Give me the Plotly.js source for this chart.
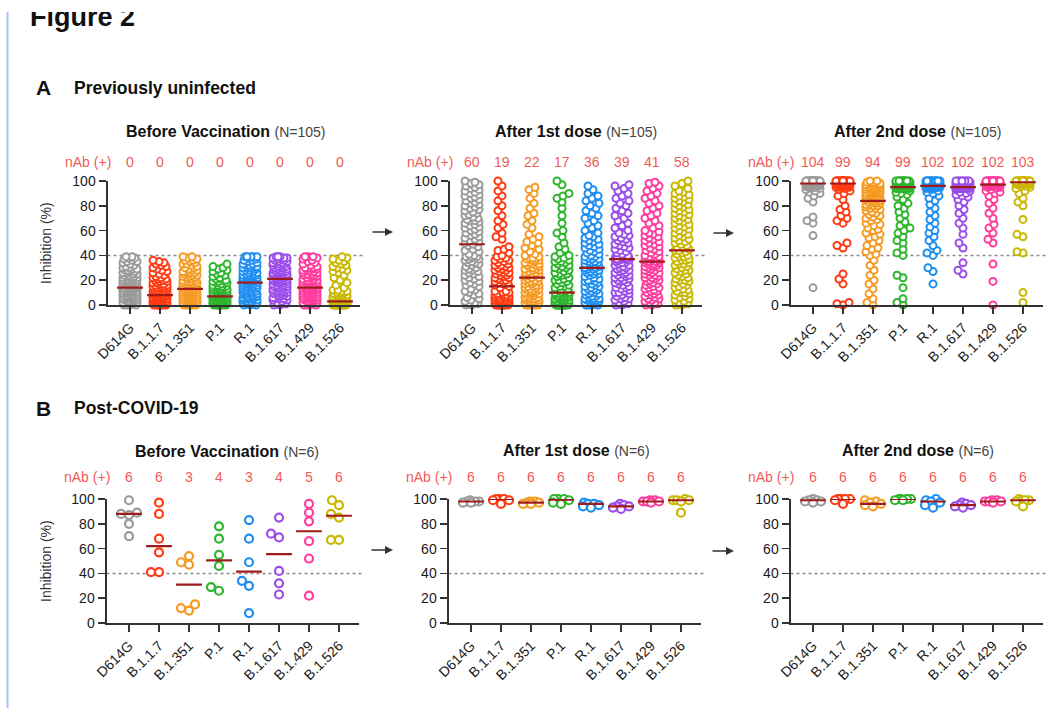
<!DOCTYPE html>
<html><head><meta charset="utf-8">
<script src="https://cdn.plot.ly/plotly-3.0.1.min.js"></script>
<style>html,body{margin:0;padding:0;background:#fff;}#chart{width:1060px;height:708px;}#cut{position:absolute;left:0;top:0;width:1060px;height:12px;background:#fff;z-index:5;}</style>
</head><body><div id="chart"></div><div id="cut"></div>
<script>
const categories = ['D614G','B.1.1.7','B.1.351','P.1','R.1','B.1.617','B.1.429','B.1.526'];
const colors = ['#9a9a9a','#ff3a12','#f59a22','#2db52d','#1f8ef1','#9b4dea','#ff3c9e','#c9b700'];
const panelTitles = ['Before Vaccination','After 1st dose','After 2nd dose'];
const cohortN = ['N=105','N=6'];
const sectionLabels = ['Previously uninfected','Post-COVID-19'];

const nAbA1 = [0,0,0,0,0,0,0,0];
const nAbA2 = [60,19,22,17,36,39,41,58];
const nAbA3 = [104,99,94,99,102,102,102,103];
const nAbB1 = [6,6,3,4,3,4,5,6];
const nAbB2 = [6,6,6,6,6,6,6,6];
const nAbB3 = [6,6,6,6,6,6,6,6];

const medA1 = [14,8,13,7,18,21,14,3];
const medA2 = [49,15,22,10,30,37,35,44];
const medA3 = [98,98,84,95,96,95,97,99];
const medB1 = [88,62,31,50.5,41.5,55.5,74,86.5];
const medB2 = [98,100,97,99.5,96,94,98,99];
const medB3 = [99,100,96,100,98,95,98,99];

const beforeA = [
[0,0,0,0,1,1,1,2,2,2,3,3,3,4,4,4,5,5,5,6,6,6,7,7,7,8,8,8,9,9,9,10,10,10,11,11,11,12,12,12,13,13,13,13,14,14,14,14,14,14,14,14,14,15,15,15,16,16,16,17,17,17,18,18,18,19,19,19,20,20,20,21,21,21,22,22,22,23,23,24,24,25,25,26,26,27,27,28,28,29,29,30,30,31,32,33,34,35,35,36,37,38,38,39,39],
[0,0,0,0,0,0,0,0,1,1,1,1,1,2,2,2,2,2,3,3,3,3,3,4,4,4,4,4,5,5,5,5,5,6,6,6,6,6,7,7,7,7,7,7,8,8,8,8,8,8,8,8,8,9,9,9,9,10,10,10,10,11,11,11,12,12,12,13,13,13,14,14,14,15,15,15,16,16,16,17,17,18,18,19,19,20,20,21,21,22,22,23,24,25,26,27,28,29,30,31,32,33,34,35,36],
[0,0,0,0,0,1,1,1,1,2,2,2,2,3,3,3,3,4,4,4,4,5,5,5,5,6,6,6,6,7,7,7,7,8,8,8,8,9,9,9,9,10,10,10,10,11,11,11,12,12,12,13,13,13,14,14,14,15,15,15,16,16,16,17,17,17,18,18,18,19,19,19,20,20,21,21,22,22,23,23,24,24,25,25,26,26,27,27,28,28,29,30,30,31,32,33,33,34,35,36,36,37,38,39,39],
[0,0,0,0,0,0,0,0,1,1,1,1,1,1,2,2,2,2,2,2,3,3,3,3,3,3,4,4,4,4,4,4,5,5,5,5,5,5,6,6,6,6,6,6,7,7,7,7,7,7,7,7,7,8,8,8,8,8,9,9,9,9,10,10,10,10,11,11,11,12,12,12,12,13,13,13,14,14,14,15,15,15,15,16,16,17,17,18,18,19,19,20,20,21,22,23,24,25,26,27,28,29,30,31,33],
[0,0,0,1,1,2,2,3,3,4,4,4,5,5,5,6,6,6,7,7,7,8,8,8,9,9,9,10,10,10,11,11,11,12,12,12,13,13,13,14,14,14,15,15,15,16,16,16,17,17,17,17,18,18,18,18,19,19,19,20,20,20,21,21,21,22,22,22,23,23,23,24,24,24,25,25,25,26,26,27,27,28,28,29,29,30,30,30,31,31,32,32,33,33,34,35,36,36,37,38,39,39,39,39,39],
[0,0,1,2,3,4,4,5,5,6,6,7,7,8,8,9,9,10,10,10,11,11,11,12,12,12,13,13,13,14,14,14,15,15,15,16,16,16,17,17,17,18,18,18,19,19,19,20,20,20,21,21,21,21,21,22,22,22,23,23,23,24,24,24,25,25,25,25,26,26,26,27,27,27,28,28,28,28,29,29,29,30,30,30,31,31,32,32,33,33,33,34,34,35,35,36,36,37,37,38,38,38,39,39,39],
[0,0,0,0,1,1,1,2,2,2,3,3,3,4,4,4,5,5,5,6,6,6,7,7,7,8,8,8,9,9,9,10,10,10,11,11,11,12,12,12,12,12,13,13,13,13,13,14,14,14,14,14,14,15,15,15,16,16,16,17,17,17,18,18,18,19,19,19,20,20,20,20,21,21,22,22,23,23,24,24,24,25,25,26,26,27,27,28,28,29,29,30,30,30,31,32,33,34,35,36,37,38,39,39,39],
[0,0,0,0,0,0,0,0,0,0,0,0,0,0,1,1,1,1,1,1,1,1,1,1,1,1,2,2,2,2,2,2,2,2,2,2,2,2,3,3,3,3,3,3,3,3,3,3,3,3,3,3,3,4,4,4,4,4,4,4,4,5,5,5,5,5,5,6,6,6,6,7,7,7,8,8,8,9,9,10,10,11,11,12,12,14,16,18,20,22,24,26,27,28,29,30,31,32,33,34,35,36,37,38,39]
];

const after1A = [
[0,0,1,1,2,3,4,5,6,8,9,10,11,12,13,15,16,17,18,19,20,21,22,23,24,25,26,27,28,28,29,30,31,32,33,34,34,35,36,37,37,38,39,39,39,40,41,43,44,45,47,48,49,50,51,52,53,54,55,56,57,58,59,60,61,62,63,64,65,66,67,68,68,69,70,71,72,73,74,75,76,77,78,79,80,81,82,83,84,85,86,87,88,89,90,91,92,93,94,95,96,97,98,99,100],
[0,0,0,0,0,0,0,0,0,0,1,1,1,1,1,1,2,2,2,2,2,2,3,3,3,3,3,4,4,4,4,4,5,5,5,5,6,6,6,7,7,7,8,8,8,9,9,10,10,11,11,14,15,16,17,18,18,19,20,20,21,22,22,23,24,24,25,26,26,27,28,28,29,30,30,31,32,32,33,34,35,36,36,37,38,39,40,42,44,45,47,53,55,58,62,65,68,72,76,80,84,88,92,96,100],
[0,0,0,0,0,1,1,1,2,2,2,3,3,3,4,4,4,5,5,5,6,6,7,7,8,8,9,9,10,10,10,11,11,12,12,13,13,14,14,15,15,16,16,17,17,18,18,19,19,20,20,21,22,22,23,24,24,25,25,26,26,27,28,28,29,29,30,30,31,32,32,33,33,34,34,35,36,36,37,37,38,38,39,40,41,43,45,46,48,50,51,53,55,57,62,65,68,72,74,78,82,86,90,93,95],
[0,0,0,0,0,0,0,0,0,0,0,0,1,1,1,1,1,1,1,2,2,2,2,2,2,3,3,3,3,3,4,4,4,4,5,5,5,5,6,6,6,7,7,7,8,8,8,9,9,9,10,10,10,11,12,12,13,14,15,15,16,17,18,19,20,20,21,22,23,24,25,25,26,27,28,29,30,30,31,32,33,34,35,35,36,37,38,39,40,42,45,47,50,55,58,60,66,72,78,83,86,88,90,97,100],
[0,0,0,0,1,1,2,2,3,3,4,4,4,5,5,5,6,7,7,8,9,9,10,11,11,12,13,13,14,15,15,16,17,17,18,19,19,20,20,21,22,23,24,25,25,26,27,27,28,28,29,29,30,30,31,31,32,33,33,34,34,35,35,36,37,37,38,39,39,40,41,42,43,44,45,46,47,48,49,50,51,52,53,54,55,56,58,60,62,64,66,68,70,72,74,76,78,80,82,84,86,88,90,93,96],
[0,0,1,2,3,4,5,5,6,7,8,9,10,10,11,12,13,14,14,15,16,17,18,18,19,20,20,21,22,22,23,24,24,25,26,26,27,28,28,29,30,30,31,32,32,33,34,34,35,36,36,37,37,37,37,38,38,38,38,39,39,39,39,39,38,37,40,41,42,43,44,45,46,47,48,49,50,51,52,53,54,55,56,57,58,60,62,64,66,68,70,72,74,76,78,80,82,84,86,88,90,92,94,96,97],
[0,0,1,2,2,3,4,5,5,6,7,8,8,9,10,11,11,12,13,14,14,15,16,17,17,18,19,20,20,21,22,22,23,24,24,25,26,26,27,28,28,29,30,30,31,31,32,32,33,33,34,34,35,35,35,36,36,37,37,38,38,39,39,39,40,41,42,43,44,45,46,47,48,49,50,51,52,53,54,55,56,57,58,59,60,62,64,66,68,70,72,74,76,78,80,82,84,86,88,90,92,94,96,98,99],
[0,0,1,2,3,4,5,6,7,8,9,10,10,11,12,13,14,15,16,17,18,19,20,20,21,22,23,24,25,26,27,28,28,29,30,31,32,33,33,34,35,36,36,37,38,39,39,40,41,42,43,44,44,45,46,47,48,49,50,51,52,53,54,55,56,57,58,59,60,61,62,63,64,65,66,67,68,69,70,71,72,73,74,75,76,77,78,79,80,81,82,83,84,85,86,87,88,89,90,91,92,94,96,98,100]
];

const after2A = [
[14,56,66,68,71,83,86,88,90,91,92,93,94,94,95,95,95,96,96,96,96,96,96,97,97,97,97,97,97,97,97,97,97,97,97,97,97,97,98,98,98,98,98,98,98,98,98,98,98,98,98,98,98,98,98,98,98,98,99,99,99,99,99,99,99,99,99,99,99,99,99,99,99,99,99,99,99,99,99,99,99,99,99,100,100,100,100,100,100,100,100,100,100,100,100,100,100,100,100,100,100,100,100,100,100],
[0,1,2,17,21,25,46,48,50,66,68,70,72,75,77,80,85,88,90,92,93,94,95,95,95,95,96,96,96,96,96,96,97,97,97,97,97,97,97,97,97,97,98,98,98,98,98,98,98,98,98,98,98,98,98,98,99,99,99,99,99,99,99,99,99,99,99,99,99,99,99,99,99,99,99,99,99,99,99,99,100,100,100,100,100,100,100,100,100,100,100,100,100,100,100,100,100,100,100,100,100,100,100,100,100],
[0,2,5,9,13,17,20,24,28,32,36,40,41,43,45,46,48,50,52,54,55,57,58,60,61,62,64,65,66,68,69,70,71,72,73,74,75,76,77,78,78,79,80,80,81,81,82,82,83,83,83,84,84,85,85,85,86,86,86,87,87,87,88,88,88,89,89,89,90,90,90,90,91,91,91,91,92,92,92,92,93,93,93,93,94,94,94,94,95,95,95,95,96,96,96,97,97,97,98,98,98,99,99,100,100],
[0,2,5,14,22,24,40,42,45,50,52,55,58,60,62,64,67,70,73,75,78,80,82,85,87,89,90,91,92,93,94,94,94,94,94,94,94,94,95,95,95,95,95,95,95,95,95,95,95,95,95,95,95,96,96,96,96,96,96,96,96,96,96,97,97,97,97,97,97,97,97,97,97,98,98,98,98,98,98,98,98,98,98,99,99,99,99,99,99,99,99,99,99,100,100,100,100,100,100,100,100,100,100,100,100],
[17,27,30,40,42,44,48,52,55,58,60,63,66,69,72,75,78,81,84,86,88,90,91,92,93,94,94,95,95,95,95,95,95,95,95,95,95,96,96,96,96,96,96,96,96,96,96,96,96,96,96,96,96,97,97,97,97,97,97,97,97,97,97,97,97,98,98,98,98,98,98,98,98,98,98,98,98,98,99,99,99,99,99,99,99,99,99,99,99,99,99,100,100,100,100,100,100,100,100,100,100,100,100,100,100],
[25,28,34,46,50,57,62,66,70,74,77,80,83,85,87,88,89,90,91,92,93,94,94,94,94,94,94,94,94,94,94,94,94,95,95,95,95,95,95,95,95,95,95,95,95,95,95,95,95,95,95,95,95,96,96,96,96,96,96,96,96,96,96,96,96,97,97,97,97,97,97,97,97,97,97,97,97,98,98,98,98,98,98,98,98,98,98,99,99,99,99,99,99,99,99,99,99,100,100,100,100,100,100,100,100],
[0,19,33,50,53,58,62,65,70,74,78,82,85,88,90,91,92,93,94,95,95,96,96,96,96,96,96,96,96,96,96,96,96,97,97,97,97,97,97,97,97,97,97,97,97,97,97,97,97,97,97,97,97,98,98,98,98,98,98,98,98,98,98,98,98,98,98,98,99,99,99,99,99,99,99,99,99,99,99,99,99,99,99,99,99,99,100,100,100,100,100,100,100,100,100,100,100,100,100,100,100,100,100,100,100],
[2,10,42,43,55,57,69,80,83,86,90,92,94,95,96,96,97,97,98,98,98,98,98,98,98,98,98,98,98,98,98,98,98,99,99,99,99,99,99,99,99,99,99,99,99,99,99,99,99,99,99,99,99,99,99,99,99,99,99,99,99,99,99,99,99,99,99,99,99,99,99,99,99,100,100,100,100,100,100,100,100,100,100,100,100,100,100,100,100,100,100,100,100,100,100,100,100,100,100,100,100,100,100,100,100]
];

const beforeB = [
[99,89,88,87,80,70],
[97,88,68,57,41,41],
[54,49,47,15,12,10],
[78,68,55,46,29,26],
[83,68,49,34,30,8],
[85,72,69,42,32,23],
[96,89,82,66,52,22],
[99,95,88,85,67,67]
];
const after1B = [
[99,98,98,98,97,97],
[100,100,100,99,99,96],
[98,98,97,97,96,96],
[100,100,100,99,97,96],
[97,96,96,95,94,93],
[96,95,94,94,93,92],
[99,99,98,98,98,97],
[100,99,99,99,98,89]
];
const after2B = [
[100,99,99,98,98,97],
[100,100,100,100,99,96],
[99,98,97,96,95,94],
[100,100,100,100,99,99],
[100,99,98,97,95,93],
[97,96,95,95,94,93],
[99,99,98,98,98,97],
[100,99,99,99,98,94]
];

// ---------- layout geometry (pixels) ----------
const W = 1060, H = 708, PW = 252, PH = 124, XR = [-0.75, 7.65];
const PXX = PW / (XR[1] - XR[0]), PXY = PH / 100;
const fx = px => px / W, fy = py => 1 - py / H;
const FONT = '"Liberation Sans", Arial, Helvetica, sans-serif';

const panels = [
  {vals: beforeA, med: medA1, nab: nAbA1, title: panelTitles[0], n: cohortN[0], left: 107.5, top: 181, tx: 225, ty: 132, ny: 162, yTitle: true, big: false},
  {vals: after1A, med: medA2, nab: nAbA2, title: panelTitles[1], n: cohortN[0], left: 449.5, top: 181, tx: 575.5, ty: 132, ny: 162, yTitle: false, big: false},
  {vals: after2A, med: medA3, nab: nAbA3, title: panelTitles[2], n: cohortN[0], left: 790.5, top: 181, tx: 917, ty: 132, ny: 162, yTitle: false, big: false},
  {vals: beforeB, med: medB1, nab: nAbB1, title: panelTitles[0], n: cohortN[1], left: 106.5, top: 499, tx: 227, ty: 451, ny: 477, yTitle: true, big: true},
  {vals: after1B, med: medB2, nab: nAbB2, title: panelTitles[1], n: cohortN[1], left: 448.5, top: 499, tx: 576, ty: 450, ny: 477, yTitle: false, big: true},
  {vals: after2B, med: medB3, nab: nAbB3, title: panelTitles[2], n: cohortN[1], left: 790.5, top: 499, tx: 917.5, ty: 450, ny: 477, yTitle: false, big: true}
];

// beeswarm: horizontal offsets (in category units) so that circles do not overlap, within a max width
function swarm(vals, D, maxHalf) {
  const order = vals.map((v, i) => i).sort((a, b) => vals[a] - vals[b]);
  const step = 1, cands = [0];
  for (let s = step; s <= maxHalf + 1e-9; s += step) cands.push(-s, s);
  const placed = [], off = new Array(vals.length);
  for (const i of order) {
    const py = vals[i] * PXY;
    let best = 0, bestScore = -1;
    for (const cx of cands) {
      let minD = Infinity;
      for (const p of placed) {
        const dy = p.y - py;
        if (Math.abs(dy) >= D) continue;
        const d = Math.hypot(p.x - cx, dy);
        if (d < minD) minD = d;
      }
      if (minD >= D) { best = cx; bestScore = Infinity; break; }
      if (minD > bestScore) { bestScore = minD; best = cx; }
    }
    placed.push({x: best, y: py});
    off[i] = best / PXX;
  }
  return off;
}

const traces = [], annotations = [], shapes = [];
const layout = {
  width: W, height: H, margin: {l: 0, r: 0, t: 0, b: 0, pad: 0},
  paper_bgcolor: '#ffffff', plot_bgcolor: 'rgba(0,0,0,0)',
  font: {family: FONT, color: '#222'}, showlegend: false
};
const redTxt = '#ef5b57';

panels.forEach((p, k0) => {
  const sx = k0 === 0 ? '' : String(k0 + 1);
  const xa = 'x' + sx, ya = 'y' + sx;
  layout['xaxis' + sx] = {
    domain: [fx(p.left), fx(p.left + PW)], range: XR, anchor: ya,
    tickmode: 'array', tickvals: categories.map((c, i) => i), ticktext: categories,
    tickangle: -45, ticks: 'outside', ticklen: 7, tickwidth: 1.5, tickcolor: '#333',
    showline: true, linecolor: '#333', linewidth: 2, showgrid: false, zeroline: false,
    tickfont: {size: 14, color: '#1a1a1a'}, fixedrange: true
  };
  layout['yaxis' + sx] = {
    domain: [fy(p.top + PH), fy(p.top)], range: [0, 100], anchor: xa,
    tickmode: 'array', tickvals: [0, 20, 40, 60, 80, 100],
    ticks: 'outside', ticklen: 7, tickwidth: 1.5, tickcolor: '#333',
    showline: true, linecolor: '#333', linewidth: 2, showgrid: false, zeroline: false,
    tickfont: {size: 14, color: '#1a1a1a'}, fixedrange: true
  };
  const msize = p.big ? 8 : 7, lw = p.big ? 2.2 : 2, D = p.big ? 8.5 : 6, half = p.big ? 8 : 7;
  p.vals.forEach((v, i) => {
    const off = swarm(v, D, half);
    traces.push({
      type: 'scatter', mode: 'markers', x: v.map((_, j) => i + off[j]), y: v,
      xaxis: xa, yaxis: ya, cliponaxis: false, hoverinfo: 'skip', showlegend: false,
      marker: {size: msize, color: '#ffffff', line: {color: colors[i], width: lw}}
    });
  });
  const mx = [], my = [];
  p.med.forEach((m, i) => { mx.push(i - 0.43, i + 0.43, null); my.push(m, m, null); });
  traces.push({type: 'scatter', mode: 'lines', x: mx, y: my, xaxis: xa, yaxis: ya,
    cliponaxis: false, hoverinfo: 'skip', showlegend: false, line: {color: '#9e1b1b', width: 2.2}});
  shapes.push({type: 'line', xref: xa + ' domain', yref: ya, x0: 0, x1: 1.012, y0: 40, y1: 40,
    layer: 'below', line: {color: '#8a8a8a', width: 1.5, dash: 'dot'}});
  annotations.push({xref: 'paper', yref: 'paper', x: fx(p.tx), y: fy(p.ty), xanchor: 'center', yanchor: 'middle',
    showarrow: false, font: {size: 16, color: '#111'},
    text: '<b>' + p.title + '</b> <span style="font-size:14px;color:#444">(' + p.n + ')</span>'});
  annotations.push({xref: xa, yref: 'paper', x: -0.57, y: fy(p.ny), xanchor: 'right', yanchor: 'middle',
    showarrow: false, text: 'nAb (+)', font: {size: 14, color: redTxt}});
  p.nab.forEach((n, i) => annotations.push({xref: xa, yref: 'paper', x: i, y: fy(p.ny),
    xanchor: 'center', yanchor: 'middle', showarrow: false, text: String(n), font: {size: 14, color: redTxt}}));
  if (p.yTitle) annotations.push({xref: 'paper', yref: 'paper', x: fx(46), y: fy(p.top + PH / 2),
    xanchor: 'center', yanchor: 'middle', textangle: -90, showarrow: false,
    text: 'Inhibition (%)', font: {size: 14, color: '#333'}});
});

// section labels
annotations.push({xref: 'paper', yref: 'paper', x: fx(34), y: fy(88), xanchor: 'left', yanchor: 'middle', showarrow: false, text: '<b>A</b>', font: {size: 21, color: '#111'}});
annotations.push({xref: 'paper', yref: 'paper', x: fx(72), y: fy(88), xanchor: 'left', yanchor: 'middle', showarrow: false, text: '<b>' + sectionLabels[0] + '</b>', font: {size: 17.5, color: '#111'}});
annotations.push({xref: 'paper', yref: 'paper', x: fx(34), y: fy(408), xanchor: 'left', yanchor: 'middle', showarrow: false, text: '<b>B</b>', font: {size: 21, color: '#111'}});
annotations.push({xref: 'paper', yref: 'paper', x: fx(72), y: fy(408), xanchor: 'left', yanchor: 'middle', showarrow: false, text: '<b>' + sectionLabels[1] + '</b>', font: {size: 17.5, color: '#111'}});
annotations.push({xref: 'paper', yref: 'paper', x: fx(28), y: fy(17), xanchor: 'left', yanchor: 'middle', showarrow: false, text: '<b>Figure 2</b>', font: {size: 27, color: '#111'}});

// arrows between panels
[[393, 232, 371], [734, 233, 712], [393, 550, 370], [734, 551, 711]].forEach(a => {
  annotations.push({xref: 'paper', yref: 'paper', x: fx(a[0]), y: fy(a[1]), ax: a[2] - a[0], ay: 0,
    showarrow: true, text: '', arrowhead: 2, arrowsize: 1, arrowwidth: 1.6, arrowcolor: '#333'});
});

// page border line
shapes.push({type: 'line', xref: 'paper', yref: 'paper', x0: fx(7.5), x1: fx(7.5), y0: fy(12), y1: 0,
  line: {color: '#a9c4ee', width: 2}});

layout.annotations = annotations;
layout.shapes = shapes;
Plotly.newPlot('chart', traces, layout, {displayModeBar: false, staticPlot: true});
</script></body></html>
